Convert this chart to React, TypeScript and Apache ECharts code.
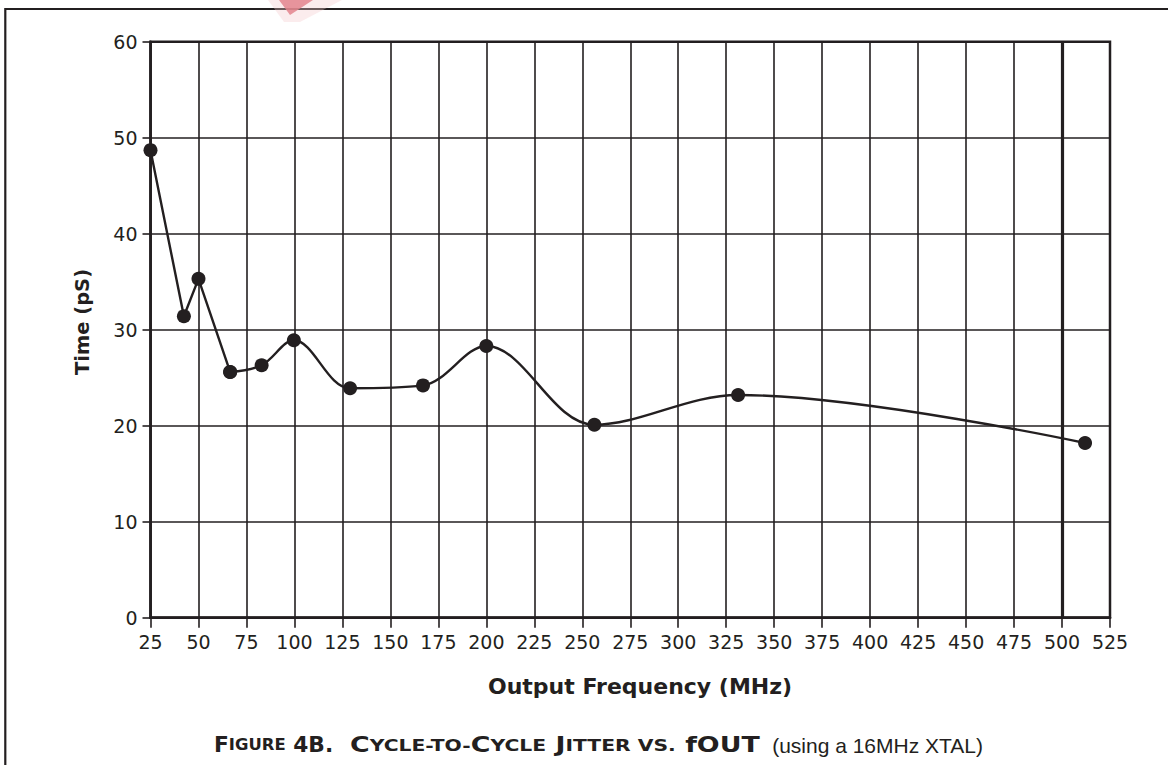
import React, { useEffect, useRef } from "react";
import * as echarts from "echarts";

// ---- data ----
const frequencyMHz = [25, 42.4, 50, 66.5, 82.9, 99.7, 129, 167, 200, 256.3, 331.2, 512];
const jitterPs = [48.7, 31.4, 35.3, 25.6, 26.3, 28.9, 23.9, 24.2, 28.3, 20.1, 23.2, 18.2];
// the first points are joined by straight segments, the rest by a smooth curve
const straightUntilIndex = 3;
const xRange = [25, 525];
const xStep = 25;
const yRange = [0, 60];
const yStep = 10;
const heavyGridX = [500];
const xAxisTitle = "Output Frequency (MHz)";
const yAxisTitle = "Time (pS)";

const INK = "#231f20";
const TICK_FONT = "DejaVu Sans";
const BOLD_FONT = "DejaVu Sans";

export default function App() {
  const ref = useRef<HTMLDivElement>(null);

  useEffect(() => {
    document.body.style.margin = "0";
    if (!ref.current) return;
    const chart = echarts.init(ref.current, undefined, { renderer: "svg" });

    const points = frequencyMHz.map((f, i) => [f, jitterPs[i]]);
    const straightPart = points.slice(0, straightUntilIndex + 1);
    const smoothPart = points.slice(straightUntilIndex);

    const lineBase = {
      type: "line",
      symbol: "circle",
      symbolSize: 14,
      itemStyle: { color: INK },
      lineStyle: { color: INK, width: 2.4 },
      emphasis: { disabled: true },
      z: 5,
    };

    const capsRich = {
      b: { fontFamily: BOLD_FONT, fontWeight: "bold", fontSize: 20.5, fill: INK },
      s: { fontFamily: BOLD_FONT, fontWeight: "bold", fontSize: 15.5, fill: INK },
    };

    chart.setOption({
      animation: false,
      backgroundColor: "#ffffff",
      grid: {
        left: 150.5,
        right: 58,
        top: 41.7,
        bottom: 147.3,
        show: true,
        borderColor: INK,
        borderWidth: 2.5,
        backgroundColor: "transparent",
      },
      xAxis: {
        type: "value",
        min: xRange[0],
        max: xRange[1],
        interval: xStep,
        axisLine: { show: true, onZero: false, lineStyle: { color: INK, width: 2.5 } },
        axisTick: { show: true, inside: false, length: 10, lineStyle: { color: INK, width: 1.6 } },
        axisLabel: {
          color: INK,
          fontFamily: TICK_FONT,
          fontSize: 19,
          margin: 15,
          showMinLabel: true,
          showMaxLabel: true,
        },
        splitLine: { show: true, lineStyle: { color: INK, width: 1.6 } },
      },
      yAxis: {
        type: "value",
        min: yRange[0],
        max: yRange[1],
        interval: yStep,
        axisLine: { show: true, onZero: false, lineStyle: { color: INK, width: 2.5 } },
        axisTick: { show: true, inside: false, length: 8, lineStyle: { color: INK, width: 1.6 } },
        axisLabel: {
          color: INK,
          fontFamily: TICK_FONT,
          fontSize: 19,
          margin: 13,
          padding: [0, 0, 12, 0],
          showMinLabel: true,
          showMaxLabel: true,
        },
        splitLine: { show: true, lineStyle: { color: INK, width: 1.6 } },
      },
      series: [
        {
          ...lineBase,
          data: straightPart,
          smooth: false,
        },
        {
          ...lineBase,
          data: smoothPart,
          smooth: 0.35,
          markLine: {
            silent: true,
            symbol: ["none", "none"],
            label: { show: false },
            lineStyle: { color: INK, width: 3.2, type: "solid" },
            data: heavyGridX.map((v) => ({ xAxis: v })),
            z: 3,
          },
        },
      ],
      graphic: [
        {
          type: "rect",
          z: 0,
          shape: { x: 5.3, y: 9, width: 1400, height: 1000 },
          style: { fill: "none", stroke: INK, lineWidth: 2.2 },
        },
        {
          type: "polygon",
          z: 10,
          shape: { points: [[268, 0], [342, 0], [300, 22], [284, 22]] },
          style: { fill: "#f4c9cc", opacity: 0.35 },
        },
        {
          type: "polygon",
          z: 11,
          shape: { points: [[279, 0], [313, 0], [290, 15]] },
          style: { fill: "#e3858d", opacity: 0.85 },
        },
        {
          type: "text",
          x: 82,
          y: 322,
          rotation: Math.PI / 2,
          style: {
            text: yAxisTitle,
            fill: INK,
            font: `bold 19.5px "${BOLD_FONT}"`,
            align: "center",
            verticalAlign: "middle",
          },
        },
        {
          type: "text",
          x: 640,
          y: 686,
          style: {
            text: xAxisTitle,
            fill: INK,
            font: `bold 22px "${BOLD_FONT}"`,
            align: "center",
            verticalAlign: "middle",
          },
        },
        {
          type: "text",
          x: 214,
          y: 745,
          scaleX: 1.06,
          style: {
            text: "{b|F}{s|IGURE}{b| 4B.}",
            align: "left",
            verticalAlign: "middle",
            rich: capsRich,
          },
        },
        {
          type: "text",
          x: 350,
          y: 745,
          scaleX: 1.31,
          style: {
            text: "{b|C}{s|YCLE-TO-}{b|C}{s|YCLE}{b| J}{s|ITTER VS.}{b| fOUT}",
            align: "left",
            verticalAlign: "middle",
            rich: capsRich,
          },
        },
        {
          type: "text",
          x: 983,
          y: 745,
          style: {
            text: "(using a 16MHz XTAL)",
            fill: INK,
            font: `normal 21px "Liberation Sans"`,
            align: "right",
            verticalAlign: "middle",
          },
        },
      ],
    });

    return () => chart.dispose();
  }, []);

  return <div ref={ref} style={{ width: 1168, height: 765 }} />;
}
